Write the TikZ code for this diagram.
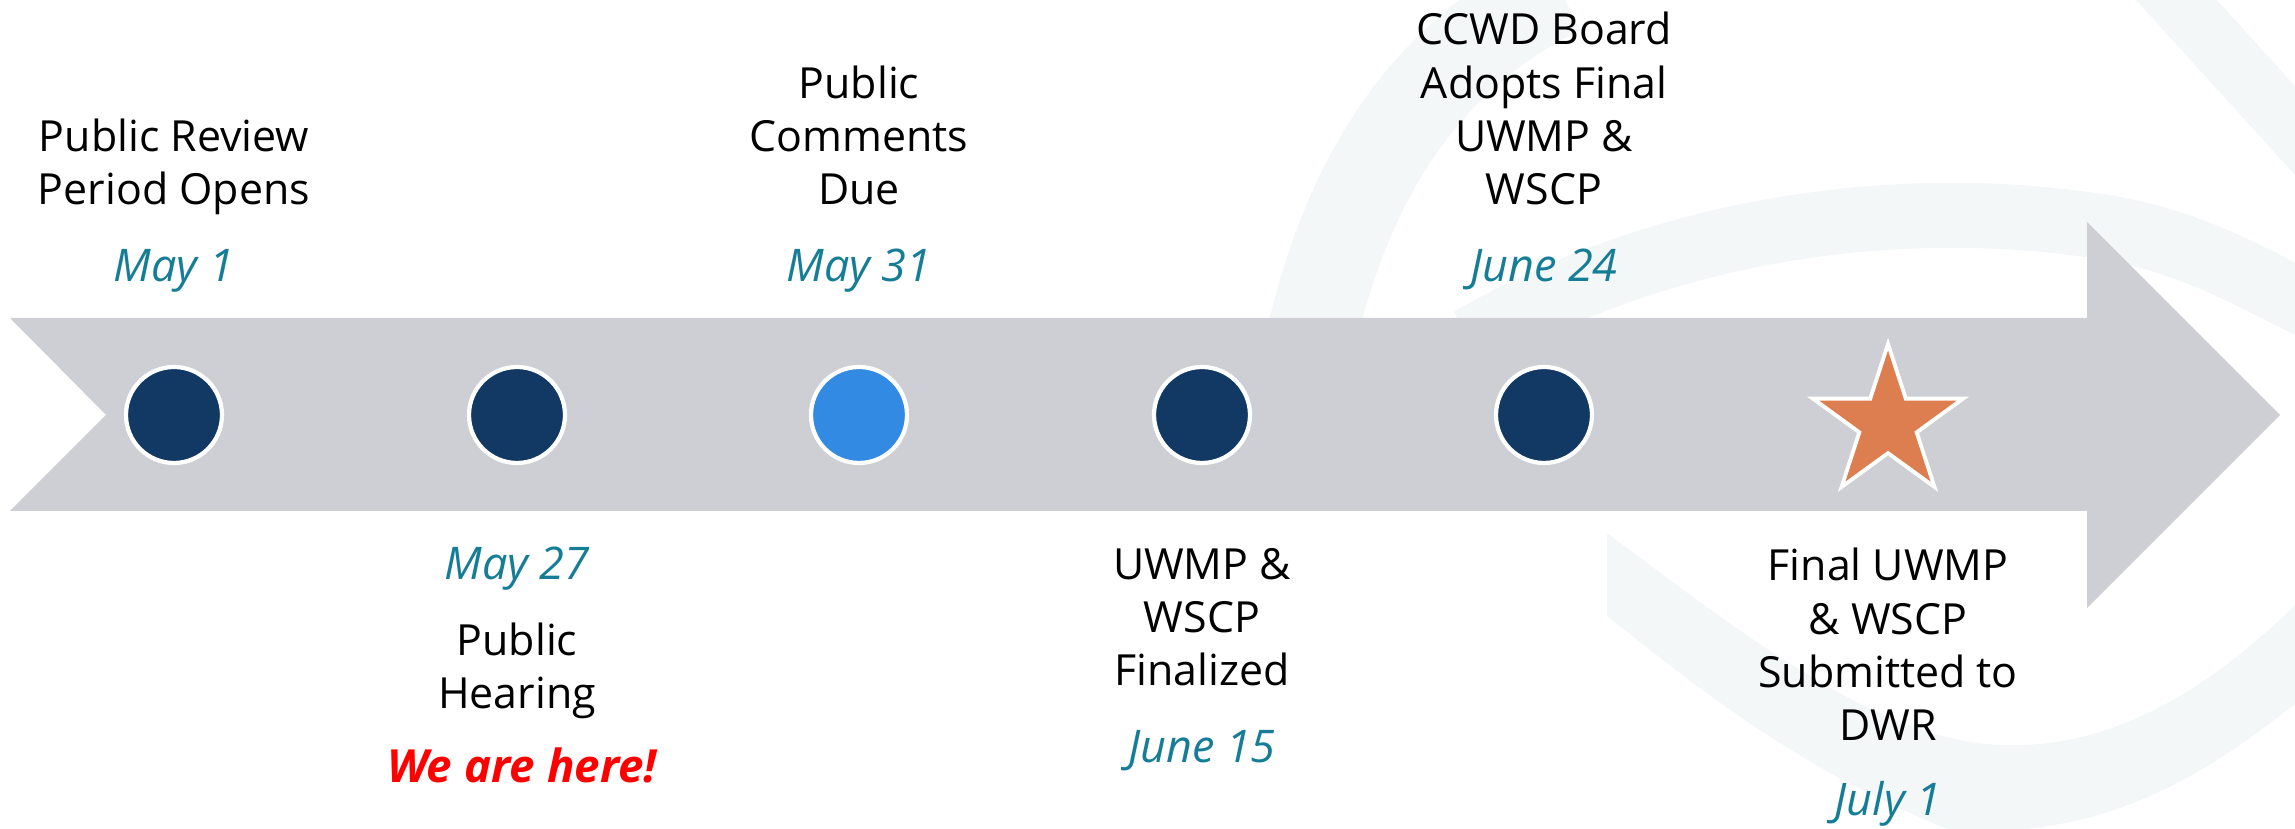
\documentclass[tikz,border=0pt]{standalone}
\usepackage{fontspec}
\setmainfont{Open Sans}
\usetikzlibrary{shapes.geometric, positioning}

\definecolor{bandgray}{RGB}{205,207,212}
\definecolor{donenavy}{RGB}{17,57,100}
\definecolor{nowblue}{RGB}{50,138,226}
\definecolor{goalorange}{RGB}{220,126,80}
\definecolor{dateteal}{RGB}{22,125,150}
\definecolor{watermark}{RGB}{244,247,248}

\begin{document}
\begin{tikzpicture}[x=0.1mm, y=-0.1mm,
    every node/.style = {inner sep=0pt, outer sep=0pt},
    milestone/.style = {circle, fill=donenavy, draw=white, line width=1.2pt, minimum size=9.6mm},
    event/.style = {align=center, anchor=base, font=\fontsize{12.2}{15.2}\selectfont},
    date/.style = {anchor=base, text=dateteal, font=\fontsize{12.8}{15}\selectfont\itshape}]
    % \draw [help lines] (0,0) grid (2295,829);
    \useasboundingbox (0,0) rectangle (2295,829);
    \begin{scope}
        \clip (0,0) rectangle (2295,829);
        \draw [watermark, line width=9mm] (1313,330) .. controls (1350,180) and (1420,60) .. (1560,-10);
        \draw [watermark, line width=6mm] (2140,-40) -- (2340,180);
        \draw [watermark, line width=6.5mm] (1470,340) .. controls (1650,235) and (1880,195) .. (2090,225)
            .. controls (2200,240) and (2260,285) .. (2330,315);
        \fill [watermark] (1607,533) .. controls (1750,640) and (1880,740) .. (2000,745)
            .. controls (2120,750) and (2220,680) .. (2300,600) -- (2300,700)
            .. controls (2200,780) and (2100,840) .. (1950,830)
            .. controls (1800,770) and (1700,690) .. (1607,616) -- cycle;
    \end{scope}
    \fill [bandgray] (10,318) -- (2087,318) -- (2087,222) -- (2280,415) -- (2087,608)
        -- (2087,511) -- (10,511) -- (106,415) -- cycle;

    \node (dotMay1) [milestone] at (174,415) {};
    \node (dotMay27) [milestone] at (517,415) {};
    \node (dotMay31) [milestone, fill=nowblue] at (859,415) {};
    \node (dotJun15) [milestone] at (1202,415) {};
    \node (dotJun24) [milestone] at (1544,415) {};
    \node (starJul1) [star, star points=5, star point ratio=2.618, minimum size=15.8mm,
        fill=goalorange, draw=white, line width=1.1pt] at (1888,423) {};

    % base anchor = baseline of the last line
    \node (txtMay1) [event] at (174,205) {Public Review\\Period Opens};
    \node (dateMay1) [date] at (174,282) {May 1};
    \node (dateMay27) [date] at (517,580) {May 27};
    \node (txtMay27) [event] at (517,709) {Public\\Hearing};
    \node (here) [anchor=base, text=red, font=\fontsize{13}{15}\selectfont\bfseries\itshape]
        at (522,783) {We are here!};
    \node (txtMay31) [event] at (859,205) {Public\\Comments\\Due};
    \node (dateMay31) [date] at (859,282) {May 31};
    \node (txtJun15) [event] at (1202,686) {UWMP \&\\WSCP\\Finalized};
    \node (dateJun15) [date] at (1202,763) {June 15};
    \node (txtJun24) [event] at (1544,205) {CCWD Board\\Adopts Final\\UWMP \&\\WSCP};
    \node (dateJun24) [date] at (1544,282) {June 24};
    \node (txtJul1) [event] at (1888,741) {Final UWMP\\\& WSCP\\Submitted to\\DWR};
    \node (dateJul1) [date] at (1888,816) {July 1};
\end{tikzpicture}
\end{document}
